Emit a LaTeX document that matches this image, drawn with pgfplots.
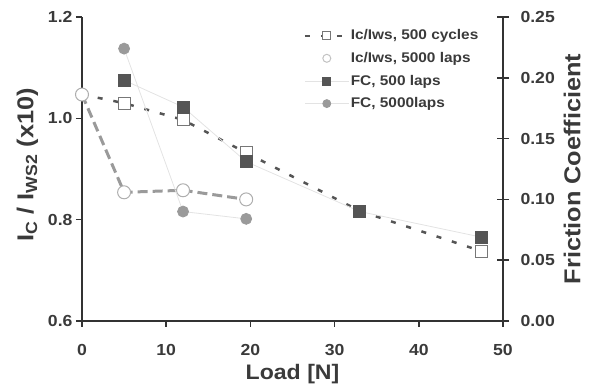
\documentclass[border=0pt]{standalone}
\usepackage{fontspec}
\setmainfont{Liberation Sans}[FakeStretch=1.1]
\usepackage{pgfplots}
\pgfplotsset{compat=1.18}
\definecolor{axc}{HTML}{333333}
\definecolor{txc}{HTML}{3A3A3A}
\definecolor{sqc}{HTML}{555555}
\definecolor{cic}{HTML}{9A9A9A}
\definecolor{thinc}{HTML}{E3E3E3}
\pgfplotsset{base/.style={scale only axis, width=421pt, height=304pt, xmin=0, xmax=50, clip=false,
  axis line style={axc, line width=2pt, -},
  every tick/.style={axc, line width=1.6pt},
  tick label style={font=\fontsize{16}{16}\selectfont\bfseries, text=txc},
  /pgf/number format/assume math mode=true,
  label style={font=\fontsize{23}{23}\selectfont\bfseries, text=txc}}}
\begin{document}
\begin{tikzpicture}
\useasboundingbox (-82pt,-69pt) rectangle (507pt,321pt);
\begin{axis}[base, axis x line*=bottom, axis y line*=left,
  ymin=0.6, ymax=1.2, ytick={0.6,0.8,1.0,1.2}, xtick={0,10,20,30,40,50},
  yticklabel style={/pgf/number format/.cd, fixed, fixed zerofill, precision=1},
  xticklabel style={yshift=-14pt},
  xlabel={Load [N]}, xlabel style={font=\fontsize{21}{21}\selectfont\bfseries, yshift=-2pt},
  ylabel={I\textsubscript{C} / I\textsubscript{WS2} (x10)}, ylabel style={xshift=4pt, yshift=3pt},
  tick align=outside, major tick length=6pt]
\addplot[sqc, line width=2.5pt, dash pattern=on 5pt off 11pt, mark=square*, mark size=6pt,
  mark indices={2,3,4,5,6}, mark options={solid, fill=white, draw=sqc!80, line width=1pt}]
  coordinates {(0,1.047)(5,1.030)(12,0.997)(19.5,0.932)(33,0.817)(47.4,0.738)};
\addplot[cic, line width=3pt, dash pattern=on 10pt off 5pt, mark=*, mark size=6.5pt,
  mark options={solid, fill=white, draw=cic!80, line width=1pt}]
  coordinates {(0,1.047)(5,0.854)(12,0.858)(19.5,0.840)};
\end{axis}
\begin{axis}[base, axis x line=none, axis y line*=right,
  ymin=0, ymax=0.25, ytick={0,0.05,0.10,0.15,0.20,0.25},
  yticklabel style={xshift=8pt, /pgf/number format/.cd, fixed, fixed zerofill, precision=2},
  ylabel={Friction Coefficient}, ylabel style={yshift=-2pt},
  tick align=center, major tick length=12pt,
  every legend image post/.append style={mark size=4pt},
  legend image code/.code={\draw[mark repeat=2, mark phase=2, #1] plot coordinates {(0pt,0pt)(22pt,0pt)(44pt,0pt)};},
  legend style={at={(axis description cs:0.524,0.965)}, anchor=north west, draw=none, fill=none,
    font=\fontsize{14}{14}\selectfont\bfseries, text=txc, row sep=9pt, inner sep=1pt,
    nodes={inner sep=1pt}},
  legend cell align=left]
\addlegendimage{sqc, line width=2pt, dash pattern=on 5pt off 11pt, mark=square*, mark options={solid, fill=white, draw=sqc!80, line width=1pt}}
\addlegendentry{Ic/Iws, 500 cycles}
\addlegendimage{only marks, mark=*, mark options={fill=white, draw=cic!60, line width=1pt}}
\addlegendentry{Ic/Iws, 5000 laps}
\addplot[thinc, line width=0.8pt, mark=square*, mark size=6pt, mark options={fill=sqc, draw=sqc}]
  coordinates {(5,0.198)(12,0.176)(19.5,0.131)(33,0.090)(47.4,0.069)};
\addlegendentry{FC, 500 laps}
\addplot[thinc, line width=0.8pt, mark=*, mark size=5.5pt, mark options={fill=cic, draw=cic}]
  coordinates {(5,0.224)(12,0.090)(19.5,0.084)};
\addlegendentry{FC, 5000laps}
\end{axis}
\end{tikzpicture}
\end{document}
